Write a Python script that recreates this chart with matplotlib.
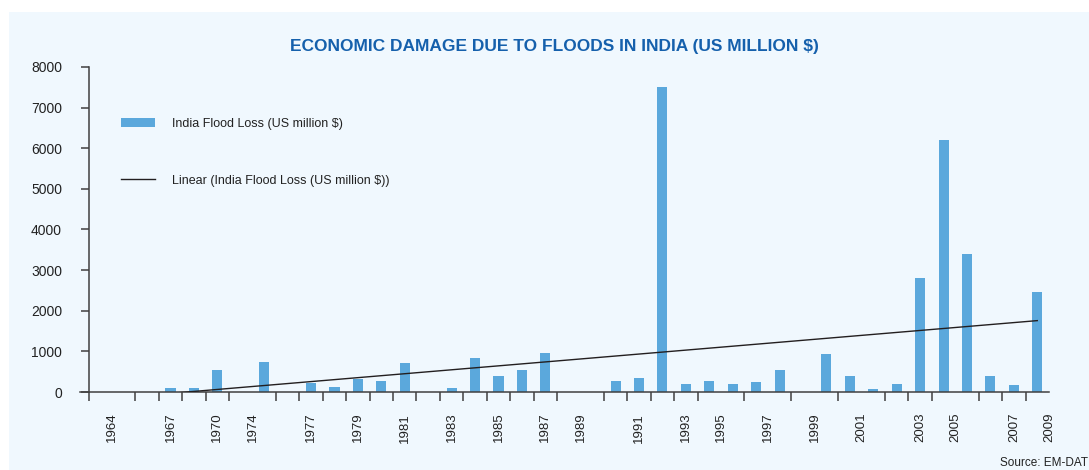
import numpy as np
import matplotlib
matplotlib.use("Agg")
import matplotlib.pyplot as plt
from matplotlib.patches import Rectangle

# ---- data ----
loss_values = [0, 0, 0, 90, 90, 534, 0, 730, 0, 222, 115, 312, 263, 706, 0,
               90, 829, 386, 534, 952, 0, 0, 263, 336, 7500, 189, 263, 189,
               238, 534, 0, 930, 386, 65, 189, 2800, 6200, 3400, 386, 164, 2460]
tick_labels = ["1964", "1967", "1970", "1974", "1977", "1979", "1981", "1983",
               "1985", "1987", "1989", "1991", "1993", "1995", "1997", "1999",
               "2001", "2003", "2005", "2007", "2009"]
tick_pos = [0.5, 3, 5, 6.5, 9, 11, 13, 15, 17, 19, 20.5, 23, 25, 26.5, 28.5,
            30.5, 32.5, 35, 36.5, 39, 40.5]
y_ticks = [0, 1000, 2000, 3000, 4000, 5000, 6000, 7000, 8000]

BG = "#F0F8FE"
BAR = "#5BA8DC"
TITLE = "#1560AC"
AXC = "#404040"
FONT = ["Liberation Sans", "DejaVu Sans"]
plt.rcParams["font.family"] = FONT

fig = plt.figure(figsize=(10.89, 4.70), dpi=100)
fig.patch.set_facecolor("white")
fig.patches.append(Rectangle((9 / 1089, 0), 1, 1 - 12 / 470, transform=fig.transFigure,
                             facecolor=BG, edgecolor="none", zorder=-10))

ax = fig.add_axes([88.5 / 1089, 1 - 392 / 470, (1049 - 88.5) / 1089, (392 - 67) / 470])
ax.set_facecolor(BG)
ax.patch.set_alpha(0)

x = np.arange(len(loss_values))
bars = ax.bar(x, loss_values, width=0.43, color=BAR,
              label="India Flood Loss (US million $)", zorder=2)

coef = np.polyfit(x, loss_values, 1)
trend, = ax.plot(x, np.polyval(coef, x), color="#231F20", lw=1.0,
                 label="Linear (India Flood Loss (US million $))", zorder=3)

ax.set_xlim(-0.5, len(loss_values) - 0.5)
ax.set_ylim(0, 8000)
ax.set_yticks(y_ticks)
ax.set_yticklabels([str(v) for v in y_ticks], fontsize=10, color="#222222")
ax.set_xticks(tick_pos)
ax.set_xticklabels(tick_labels, rotation=90, fontsize=9.5, color="#222222")
ax.set_xticks(np.arange(-0.5, len(loss_values), 1), minor=True)
ax.tick_params(axis="x", which="major", length=0, pad=15)
ax.tick_params(axis="x", which="minor", length=6.5, width=1.1, color=AXC, direction="out")
ax.tick_params(axis="y", which="major", length=6, width=1.1, color=AXC, pad=13)

for s in ["top", "right"]:
    ax.spines[s].set_visible(False)
for s in ["left", "bottom"]:
    ax.spines[s].set_color(AXC)
    ax.spines[s].set_linewidth(1.1)
ax.spines["bottom"].set_bounds(-0.5 - 8 / 23.4, len(loss_values) - 0.5)

leg = ax.legend(handles=[bars, trend], loc="upper left", bbox_to_anchor=(0.022, 0.877),
                frameon=False, fontsize=9, handlelength=2.75, handletextpad=1.35,
                labelspacing=3.55, labelcolor="#222222")

fig.text(554 / 1089, 1 - 47 / 470, "ECONOMIC DAMAGE DUE TO FLOODS IN INDIA (US MILLION $)",
         ha="center", va="center", fontsize=12.5, fontweight="bold", color=TITLE)
fig.text(1088 / 1089, 1 - 463 / 470, "Source: EM-DAT", ha="right", va="center",
         fontsize=8.5, color="#222222")

fig.savefig("out.png", dpi=100, facecolor=fig.get_facecolor())
